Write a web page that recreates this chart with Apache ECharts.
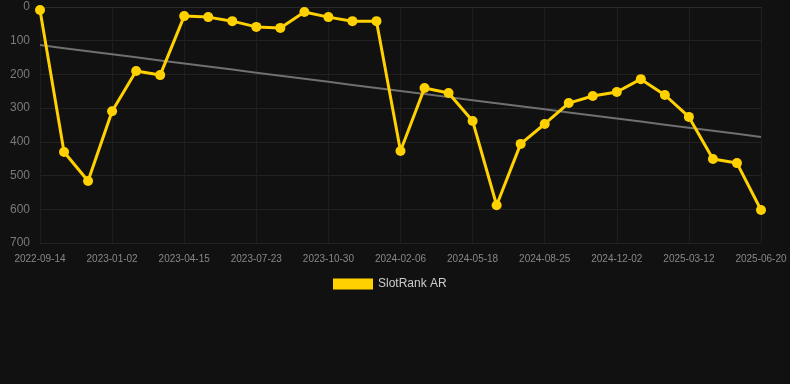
<!DOCTYPE html>
<html>
<head>
<meta charset="utf-8">
<script src="https://cdn.jsdelivr.net/npm/echarts@6/dist/echarts.min.js"></script>
<style>
  html, body { margin: 0; padding: 0; background: #111111; }
  #chart { width: 790px; height: 384px; }
</style>
</head>
<body>
<div id="chart"></div>
<script>
const dates = [
  '2022-09-14', '2022-10-21', '2022-11-27', '2023-01-02', '2023-02-05', '2023-03-11',
  '2023-04-15', '2023-05-18', '2023-06-20', '2023-07-23', '2023-08-25', '2023-09-27',
  '2023-10-30', '2023-12-02', '2024-01-04', '2024-02-06', '2024-03-10', '2024-04-14',
  '2024-05-18', '2024-06-20', '2024-07-23', '2024-08-25', '2024-09-27', '2024-10-30',
  '2024-12-02', '2025-01-04', '2025-02-07', '2025-03-12', '2025-04-14', '2025-05-17',
  '2025-06-20'
];
const ranks = [
  9, 430, 516, 309, 190, 202, 27, 30, 42, 59, 62, 15, 30, 42, 42, 427,
  240, 255, 338, 588, 406, 347, 285, 264, 252, 214, 261, 326, 451, 463, 602
];

// least squares trend over the category index
const n = ranks.length;
let sx = 0, sy = 0, sxy = 0, sxx = 0;
ranks.forEach((v, i) => { sx += i; sy += v; sxy += i * v; sxx += i * i; });
const slope = (n * sxy - sx * sy) / (n * sxx - sx * sx);
const icpt = (sy - slope * sx) / n;
const trend = ranks.map((v, i) => icpt + slope * i);

const chart = echarts.init(document.getElementById('chart'));
chart.setOption({
  backgroundColor: '#111111',
  animation: false,
  grid: { left: 40, right: 29, top: 7, bottom: 141 },
  legend: {
    data: ['SlotRank AR'],
    top: 273,
    left: 328,
    itemWidth: 40,
    itemHeight: 11,
    icon: 'rect',
    textStyle: { color: '#cccccc', fontSize: 12, fontFamily: 'Liberation Sans, Arial, sans-serif' }
  },
  xAxis: {
    type: 'category',
    data: dates,
    boundaryGap: false,
    axisLine: { lineStyle: { color: '#2a2a2a' } },
    axisTick: { show: false },
    axisLabel: {
      interval: 2,
      color: '#888888',
      fontSize: 10,
      margin: 11,
      fontFamily: 'Liberation Sans, Arial, sans-serif'
    },
    splitLine: { show: true, interval: 2, lineStyle: { color: '#1e1e1e' } }
  },
  yAxis: {
    type: 'value',
    inverse: true,
    min: 0,
    max: 700,
    interval: 100,
    axisLine: { show: false },
    axisTick: { show: false },
    axisLabel: {
      color: '#7a7a7a',
      fontSize: 12,
      margin: 10,
      fontFamily: 'Liberation Sans, Arial, sans-serif'
    },
    splitLine: { lineStyle: { color: '#222222' } }
  },
  series: [
    {
      name: 'SlotRank AR',
      type: 'line',
      data: ranks,
      z: 3,
      symbol: 'circle',
      symbolSize: 10,
      lineStyle: { color: '#ffd100', width: 3 },
      itemStyle: { color: '#ffd100' }
    },
    {
      name: 'trend',
      type: 'line',
      data: trend,
      z: 2,
      symbol: 'none',
      silent: true,
      lineStyle: { color: '#707070', width: 2 }
    }
  ]
});
</script>
</body>
</html>
